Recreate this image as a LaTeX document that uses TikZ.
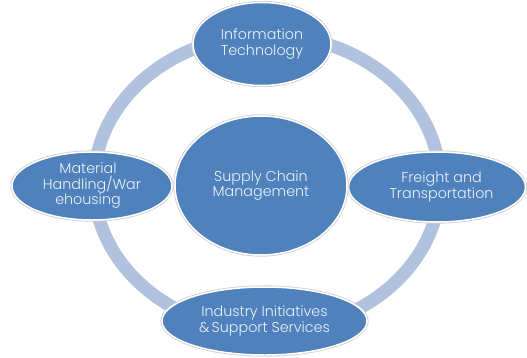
\documentclass[tikz,border=0pt]{standalone}
\usepackage{fontspec}
\setmainfont{Poppins}[UprightFont={* Light}]
\usetikzlibrary{shapes.geometric}
\definecolor{nodeblue}{HTML}{4F81BD}
\definecolor{ringblue}{HTML}{B0C2DE}
\definecolor{txtwhite}{HTML}{EEF2F8}
\tikzset{
  blob/.style={ellipse, fill=nodeblue, draw=white, line width=1.5pt,
    inner sep=0pt, text=txtwhite, align=center,
    font=\fontsize{14.3}{15.5}\selectfont,
    preaction={draw=black!18, line width=3.2pt}},
  ring/.style={draw=ringblue, line width=13pt}
}
\begin{document}
\begin{tikzpicture}[x=1pt,y=-1pt]
\useasboundingbox (0,0) rectangle (527,357);
\draw[ring] (267,183) ellipse [x radius=173, y radius=148];
\node[blob, minimum width=138pt, minimum height=83pt] (it) at (262,44) {Information\\Technology};
\node[blob, minimum width=160pt, minimum height=68pt] (mh) at (92,186) {Material\hspace*{8pt}\\Handling/War\hspace*{8pt}\\ehousing\hspace*{8pt}};
\node[blob, minimum width=177pt, minimum height=70pt] (ft) at (437,187) {\hspace*{9pt}Freight and\\\hspace*{9pt}Transportation};
\node[blob, minimum width=205pt, minimum height=68pt] (ii) at (264.5,321) {Industry Initiatives\\\&\,Support Services};
\node[blob, minimum width=172pt, minimum height=139pt] (scm) at (261,185.5) {Supply Chain\\Management};
\end{tikzpicture}
\end{document}
